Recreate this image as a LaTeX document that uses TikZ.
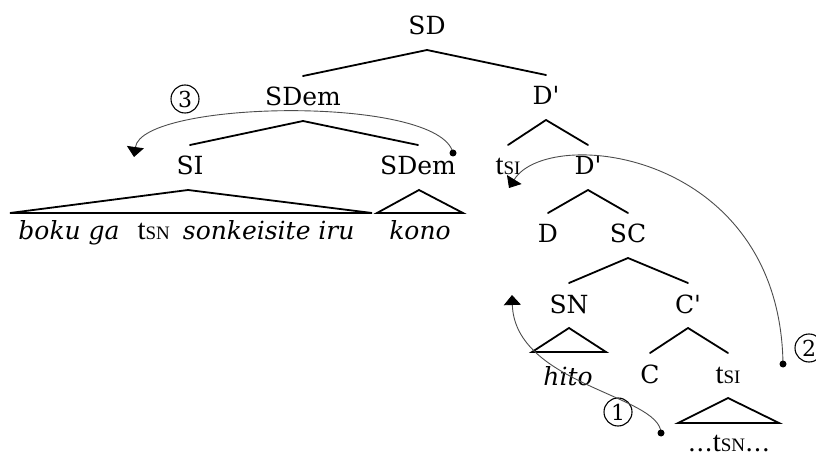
\documentclass[tikz,border=0pt]{standalone}
\usepackage{fontspec}
\setmainfont{DejaVu Serif}
\newfontfamily\plainserif{DejaVu Serif}
\newfontfamily\tracefont{Liberation Serif}
\usetikzlibrary{calc,arrows.meta}
\newcommand{\trc}[1]{{\tracefont\fontsize{29}{29}\selectfont t\fontsize{19}{19}\selectfont #1}}
\newcommand{\treebranch}[3]{\draw[br] ($(#2.base)+(0,-30)$) -- ($(#1.base)+(0,15)$) -- ($(#3.base)+(0,-30)$);}
\tikzset{
  lab/.style={anchor=base, inner sep=0pt, font=\plainserif\fontsize{25}{30}\selectfont},
  br/.style={line width=1.8pt, line join=round, line cap=round},
  mv/.style={line width=0.9pt, draw=black!70},
  num/.style={draw, circle, line width=1.1pt, minimum size=28pt, inner sep=0pt, font=\plainserif\fontsize{22}{22}\selectfont},
  tip/.style={-{Triangle[width=17pt,length=10pt,black]}}
}
\begin{document}
\begin{tikzpicture}[x=1pt,y=-1pt]
\useasboundingbox (0,0) rectangle (816,454);
% nodes
\node[lab] (SD) at (427,35) {SD};
\node[lab] (SDem) at (303,106) {SDem};
\node[lab] (D1) at (546,105) {D'};
\node[lab] (SI) at (190,175) {SI};
\node[lab] (SDem2) at (418,175) {SDem};
\node[lab] (tSI1) at (508,175) {\trc{SI}};
\node[lab] (D2) at (588,175) {D'};
\node[lab] (D) at (548,243) {D};
\node[lab] (SC) at (628,243) {SC};
\node[lab] (SN) at (569,313) {SN};
\node[lab] (Cbar) at (688,313) {C'};
\node[lab] (C) at (650,383) {C};
\node[lab] (tSI2) at (728,383) {\trc{SI}};
\node[lab] (row) at (186.5,240) {\textit{boku ga}\hspace{18pt}\trc{SN}\hspace{13pt}\textit{sonkeisite iru}};
\node[lab] (kono) at (420,240) {\textit{kono}};
\node[lab] (hito) at (568,385) {\textit{hito}};
\node[lab] (low) at (729,451) {\dots\trc{SN}\dots};
\node[num] (n1) at (618,412) {1};
\node[num] (n2) at (809,348) {2};
\node[num] (n3) at (185,99) {3};
% branches
\treebranch{SD}{SDem}{D1}
\treebranch{SDem}{SI}{SDem2}
\treebranch{D1}{tSI1}{D2}
\treebranch{D2}{D}{SC}
\treebranch{SC}{SN}{Cbar}
\treebranch{Cbar}{C}{tSI2}
% triangles
\draw[br, line join=miter] ($(SI.base)+(-2,15)$) -- ($(SI.base)+(-180,38)$) -- ($(SI.base)+(182,38)$) -- cycle;
\draw[br, line join=miter] ($(SDem2.base)+(1,15)$) -- ($(SDem2.base)+(-41,38)$) -- ($(SDem2.base)+(45,38)$) -- cycle;
\draw[br, line join=miter] ($(SN.base)+(0,15)$) -- ($(SN.base)+(-37,39)$) -- ($(SN.base)+(37,39)$) -- cycle;
\draw[br, line join=miter] ($(tSI2.base)+(0,15)$) -- ($(tSI2.base)+(-50,40)$) -- ($(tSI2.base)+(51,40)$) -- cycle;
% movement arcs
\coordinate (s3) at ($(SDem2.base)+(35,-22)$);
\coordinate (e3) at ($(SI.base)+(-56,-18)$);
\coordinate (s2) at ($(tSI2.base)+(55,-19)$);
\coordinate (e2) at ($(tSI1.base)+(1,13)$);
\coordinate (s1) at ($(low.base)+(-68,-18)$);
\coordinate (e1) at ($(SN.base)+(-57,-18)$);
\draw[mv, tip] (s3) .. controls (440,95) and (142,100) .. (e3);
\draw[mv, tip] (s2) .. controls (780,150) and (548,125) .. (e2);
\draw[mv, tip] (s1) .. controls (660,395) and (515,385) .. (e1);
\fill (s3) circle (3.5pt);
\fill (s2) circle (3.5pt);
\fill (s1) circle (3.5pt);
\end{tikzpicture}
\end{document}
